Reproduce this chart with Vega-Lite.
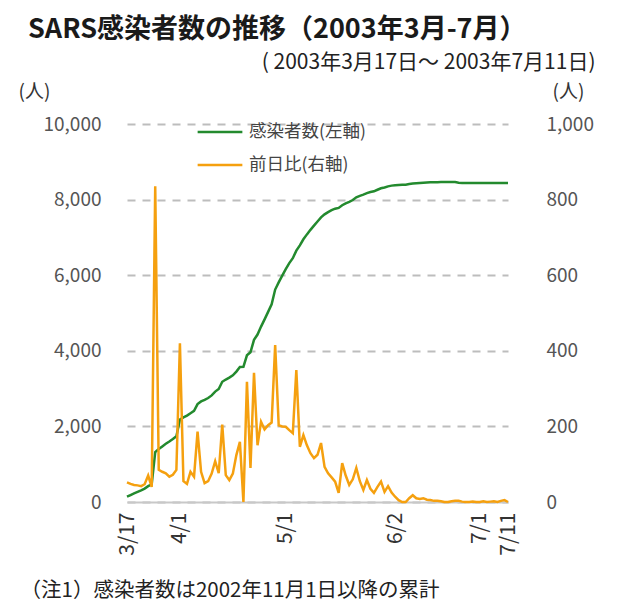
{
  "$schema": "https://vega.github.io/schema/vega-lite/v6.json",
  "autosize": {"type": "none"},
  "padding": {"left": 127, "top": 124, "right": 118, "bottom": 111},
  "width": 381,
  "height": 378,
  "background": "white",
  "config": {
    "view": {"stroke": null},
    "font": "Noto Sans CJK JP"
  },
  "title": {
    "text": "SARS感染者数の推移（2003年3月-7月）",
    "anchor": "start",
    "frame": "group",
    "dx": -99,
    "offset": 7,
    "fontSize": 27,
    "fontWeight": "bold",
    "color": "#1a1a1a",
    "font": "Noto Sans CJK JP"
  },
  "data": {
    "values": [
      {"d": "3/17", "cum": 140, "diff": 52},
      {"d": "3/18", "cum": 185, "diff": 48},
      {"d": "3/19", "cum": 230, "diff": 45},
      {"d": "3/20", "cum": 270, "diff": 44},
      {"d": "3/21", "cum": 310, "diff": 42},
      {"d": "3/22", "cum": 355, "diff": 47},
      {"d": "3/23", "cum": 420, "diff": 70},
      {"d": "3/24", "cum": 465, "diff": 40},
      {"d": "3/25", "cum": 1320, "diff": 835},
      {"d": "3/26", "cum": 1400, "diff": 85},
      {"d": "3/27", "cum": 1470, "diff": 80},
      {"d": "3/28", "cum": 1540, "diff": 76},
      {"d": "3/29", "cum": 1600, "diff": 67},
      {"d": "3/30", "cum": 1665, "diff": 72},
      {"d": "3/31", "cum": 1740, "diff": 85},
      {"d": "4/1", "cum": 2180, "diff": 420},
      {"d": "4/2", "cum": 2240, "diff": 55},
      {"d": "4/3", "cum": 2285, "diff": 48},
      {"d": "4/4", "cum": 2350, "diff": 80},
      {"d": "4/5", "cum": 2410, "diff": 67},
      {"d": "4/6", "cum": 2590, "diff": 186},
      {"d": "4/7", "cum": 2660, "diff": 80},
      {"d": "4/8", "cum": 2700, "diff": 50},
      {"d": "4/9", "cum": 2750, "diff": 55},
      {"d": "4/10", "cum": 2820, "diff": 75},
      {"d": "4/11", "cum": 2920, "diff": 108},
      {"d": "4/12", "cum": 2990, "diff": 76},
      {"d": "4/13", "cum": 3180, "diff": 205},
      {"d": "4/14", "cum": 3240, "diff": 71},
      {"d": "4/15", "cum": 3290, "diff": 58},
      {"d": "4/16", "cum": 3350, "diff": 75},
      {"d": "4/17", "cum": 3450, "diff": 124},
      {"d": "4/18", "cum": 3570, "diff": 159},
      {"d": "4/19", "cum": 3575, "diff": 0},
      {"d": "4/20", "cum": 3880, "diff": 318},
      {"d": "4/21", "cum": 3960, "diff": 90},
      {"d": "4/22", "cum": 4290, "diff": 342},
      {"d": "4/23", "cum": 4430, "diff": 150},
      {"d": "4/24", "cum": 4640, "diff": 212},
      {"d": "4/25", "cum": 4830, "diff": 192},
      {"d": "4/26", "cum": 5030, "diff": 203},
      {"d": "4/27", "cum": 5230, "diff": 210},
      {"d": "4/28", "cum": 5620, "diff": 415},
      {"d": "4/29", "cum": 5810, "diff": 203},
      {"d": "4/30", "cum": 5990, "diff": 200},
      {"d": "5/1", "cum": 6160, "diff": 199},
      {"d": "5/2", "cum": 6320, "diff": 190},
      {"d": "5/3", "cum": 6450, "diff": 182},
      {"d": "5/4", "cum": 6650, "diff": 349},
      {"d": "5/5", "cum": 6790, "diff": 146},
      {"d": "5/6", "cum": 6950, "diff": 177},
      {"d": "5/7", "cum": 7080, "diff": 150},
      {"d": "5/8", "cum": 7200, "diff": 129},
      {"d": "5/9", "cum": 7310, "diff": 116},
      {"d": "5/10", "cum": 7420, "diff": 125},
      {"d": "5/11", "cum": 7530, "diff": 156},
      {"d": "5/12", "cum": 7610, "diff": 93},
      {"d": "5/13", "cum": 7670, "diff": 76},
      {"d": "5/14", "cum": 7720, "diff": 65},
      {"d": "5/15", "cum": 7760, "diff": 54},
      {"d": "5/16", "cum": 7780, "diff": 24},
      {"d": "5/17", "cum": 7850, "diff": 103},
      {"d": "5/18", "cum": 7900, "diff": 70},
      {"d": "5/19", "cum": 7940, "diff": 45},
      {"d": "5/20", "cum": 7990, "diff": 60},
      {"d": "5/21", "cum": 8060, "diff": 90},
      {"d": "5/22", "cum": 8100, "diff": 55},
      {"d": "5/23", "cum": 8130, "diff": 32},
      {"d": "5/24", "cum": 8170, "diff": 58},
      {"d": "5/25", "cum": 8200, "diff": 35},
      {"d": "5/26", "cum": 8220, "diff": 24},
      {"d": "5/27", "cum": 8260, "diff": 40},
      {"d": "5/28", "cum": 8300, "diff": 54},
      {"d": "5/29", "cum": 8320, "diff": 27},
      {"d": "5/30", "cum": 8350, "diff": 42},
      {"d": "5/31", "cum": 8370, "diff": 25},
      {"d": "6/2", "cum": 8380, "diff": 14},
      {"d": "6/3", "cum": 8385, "diff": 5},
      {"d": "6/4", "cum": 8390, "diff": 0},
      {"d": "6/5", "cum": 8395, "diff": 0},
      {"d": "6/6", "cum": 8410, "diff": 10},
      {"d": "6/7", "cum": 8425, "diff": 18},
      {"d": "6/9", "cum": 8432, "diff": 10},
      {"d": "6/10", "cum": 8440, "diff": 8},
      {"d": "6/11", "cum": 8448, "diff": 10},
      {"d": "6/12", "cum": 8454, "diff": 6},
      {"d": "6/13", "cum": 8458, "diff": 5},
      {"d": "6/14", "cum": 8461, "diff": 3},
      {"d": "6/16", "cum": 8462, "diff": 3},
      {"d": "6/17", "cum": 8463, "diff": 2},
      {"d": "6/18", "cum": 8463, "diff": 0},
      {"d": "6/19", "cum": 8463, "diff": 0},
      {"d": "6/20", "cum": 8464, "diff": 2},
      {"d": "6/21", "cum": 8464, "diff": 3},
      {"d": "6/23", "cum": 8445, "diff": 3},
      {"d": "6/24", "cum": 8437, "diff": 1},
      {"d": "6/25", "cum": 8437, "diff": 0},
      {"d": "6/26", "cum": 8437, "diff": 0},
      {"d": "6/27", "cum": 8437, "diff": 1},
      {"d": "6/30", "cum": 8437, "diff": 0},
      {"d": "7/1", "cum": 8437, "diff": 0},
      {"d": "7/2", "cum": 8437, "diff": 2},
      {"d": "7/3", "cum": 8437, "diff": 0},
      {"d": "7/4", "cum": 8437, "diff": 1},
      {"d": "7/7", "cum": 8437, "diff": 2},
      {"d": "7/8", "cum": 8437, "diff": 0},
      {"d": "7/9", "cum": 8437, "diff": 3},
      {"d": "7/10", "cum": 8437, "diff": 5},
      {"d": "7/11", "cum": 8437, "diff": 0}
    ]
  },
  "layer": [
    {
      "mark": {"type": "line", "strokeWidth": 2.5, "interpolate": "linear"},
      "encoding": {
        "x": {
          "field": "d", "type": "ordinal", "sort": null,
          "scale": {"type": "point", "padding": 0},
          "axis": {
            "orient": "bottom",
            "values": ["3/17", "4/1", "5/1", "6/2", "7/1", "7/11"],
            "labelAngle": 270,
            "labelFontSize": 21,
            "labelColor": "#333",
            "labelPadding": 10,
            "ticks": false,
            "grid": false,
            "domain": true,
            "domainColor": "#c8c8c8",
            "domainWidth": 2,
            "title": "（注1）感染者数は2002年11月1日以降の累計",
            "titleFontSize": 20.5,
            "titleFontWeight": "normal",
            "titleColor": "#222",
            "titleAlign": "left",
            "titleAnchor": "start",
            "titleBaseline": "middle",
            "titleX": -107,
            "titleY": 88
          }
        },
        "y": {
          "field": "cum", "type": "quantitative",
          "scale": {"domain": [0, 10000], "nice": false},
          "axis": {
            "orient": "left",
            "values": [0, 2000, 4000, 6000, 8000, 10000],
            "format": ",.0f",
            "labelFontSize": 19,
            "labelColor": "#555",
            "labelPadding": 26,
            "ticks": false,
            "domain": false,
            "grid": true,
            "gridDash": [8, 7],
            "gridColor": "#bdbdbd",
            "gridWidth": 2,
            "title": "(人)",
            "titleAngle": 0,
            "titleFontSize": 19,
            "titleFontWeight": "normal",
            "titleColor": "#333",
            "titleAlign": "center",
            "titleBaseline": "middle",
            "titleX": -93,
            "titleY": -33
          }
        },
        "color": {
          "datum": "感染者数(左軸)",
          "type": "nominal",
          "scale": {"domain": ["感染者数(左軸)", "前日比(右軸)"], "range": ["#238a2e", "#f5a00f"]},
          "legend": {
            "orient": "none",
            "legendX": 69,
            "legendY": -16,
            "title": null,
            "symbolType": "stroke",
            "symbolSize": 2000,
            "symbolStrokeWidth": 2.5,
            "labelFontSize": 17.5,
            "labelColor": "#444",
            "labelOffset": 5,
            "rowPadding": -20
          }
        }
      }
    },
    {
      "mark": {"type": "line", "strokeWidth": 2.5, "interpolate": "linear"},
      "encoding": {
        "x": {
          "field": "d", "type": "ordinal", "sort": null,
          "scale": {"type": "point", "padding": 0},
          "axis": {
            "orient": "top",
            "labels": false,
            "ticks": false,
            "domain": false,
            "grid": false,
            "title": "( 2003年3月17日～ 2003年7月11日)",
            "titleFontSize": 21,
            "titleFontWeight": "normal",
            "titleColor": "#222",
            "titleAlign": "right",
            "titleBaseline": "middle",
            "titleX": 468,
            "titleY": -62
          }
        },
        "y": {
          "field": "diff", "type": "quantitative",
          "scale": {"domain": [0, 1000], "nice": false},
          "axis": {
            "orient": "right",
            "values": [0, 200, 400, 600, 800, 1000],
            "format": ",.0f",
            "labelFontSize": 19,
            "labelColor": "#555",
            "labelPadding": 38,
            "ticks": false,
            "domain": false,
            "grid": false,
            "title": "(人)",
            "titleAngle": 0,
            "titleFontSize": 19,
            "titleFontWeight": "normal",
            "titleColor": "#333",
            "titleAlign": "center",
            "titleBaseline": "middle",
            "titleX": 60,
            "titleY": -33
          }
        },
        "color": {"datum": "前日比(右軸)", "type": "nominal"}
      }
    }
  ],
  "resolve": {"scale": {"y": "independent"}, "axis": {"x": "independent"}}
}
